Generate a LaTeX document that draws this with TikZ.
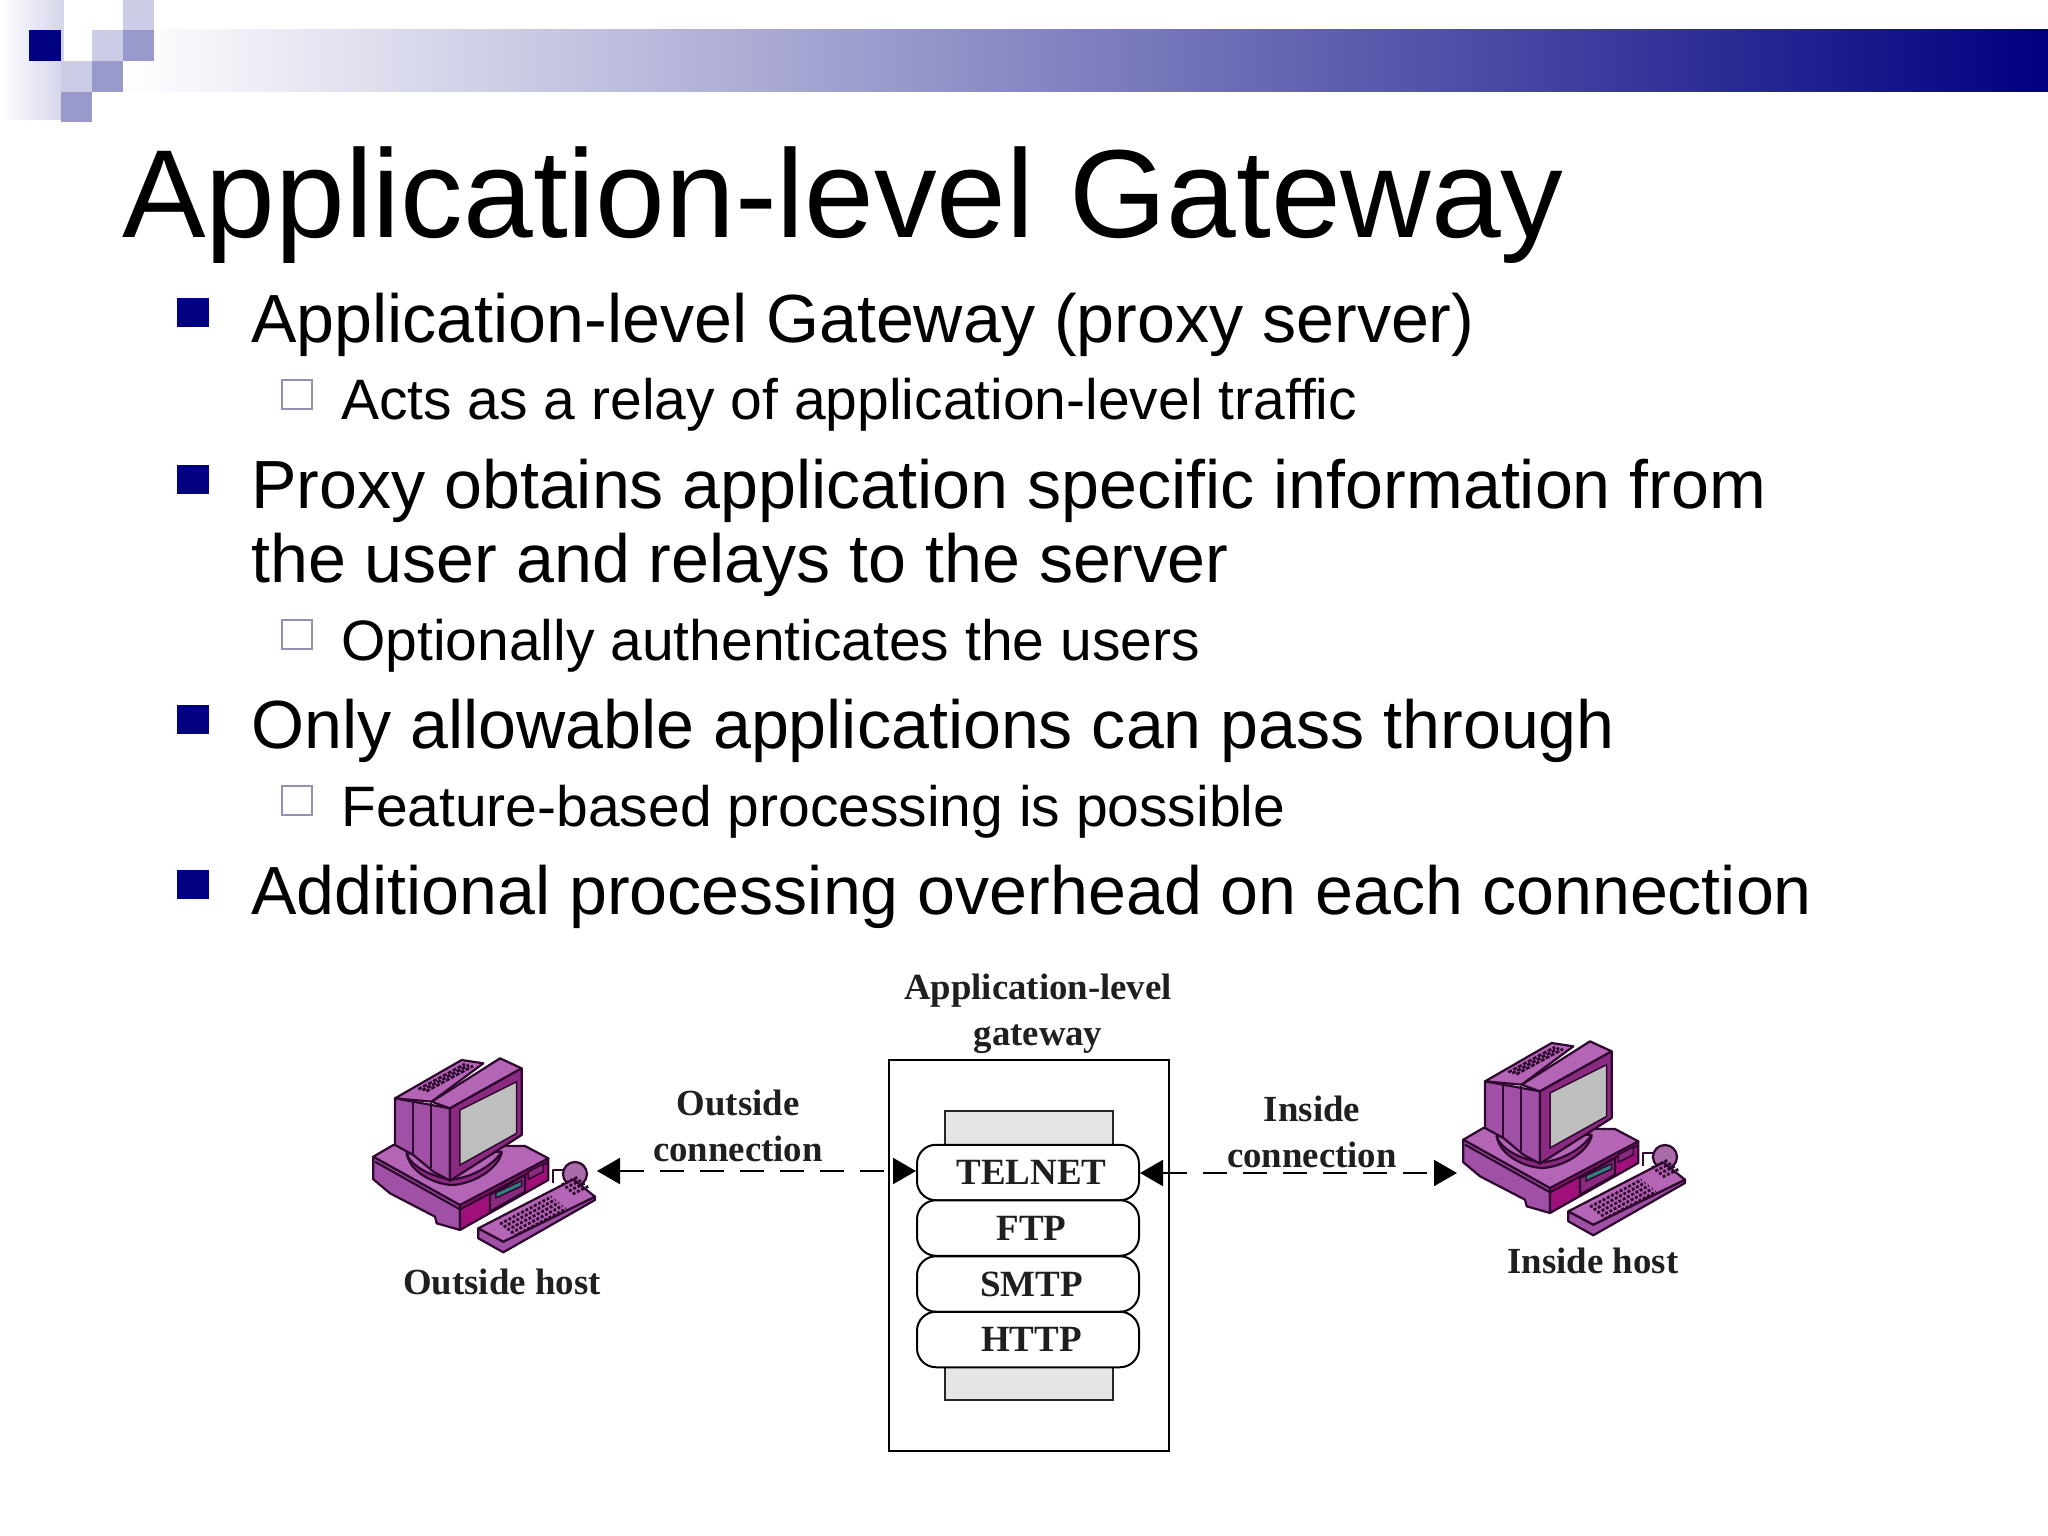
\documentclass[tikz,border=0pt]{standalone}
\usepackage{fontspec}
\setmainfont{Liberation Sans}
\newfontfamily\figfont{Liberation Serif}
\usetikzlibrary{arrows.meta}
\definecolor{slidenavy}{HTML}{000080}
\definecolor{decolight}{HTML}{CCCCE6}
\definecolor{decomid}{HTML}{9999CC}
\definecolor{pcdark}{HTML}{2E082E}
\definecolor{pctop}{HTML}{B565B5}
\definecolor{pcside}{HTML}{A050A5}
\definecolor{pcface}{HTML}{8A2A80}
\definecolor{pcmag}{HTML}{A0107A}
\definecolor{pcscreen}{HTML}{BEBEBE}
\tikzset{
  titletext/.style={anchor=base west,inner sep=0,font=\fontsize{125.3}{125}\selectfont},
  bodytext/.style={anchor=base west,inner sep=0,font=\fontsize{68.15}{68}\selectfont},
  subtext/.style={anchor=base west,inner sep=0,font=\fontsize{57}{57}\selectfont},
  bullone/.style={fill=slidenavy,draw=none},
  bulltwo/.style={draw=decomid!70!gray,line width=2.4pt,fill=white},
  figlabel/.style={inner sep=0,align=center,text=black!88,font=\figfont\bfseries\fontsize{36.8}{46}\selectfont},
  pill/.style={draw=black,line width=2pt,fill=white,rounded corners=19pt,minimum width=222pt,minimum height=55.5pt,inner sep=0,text=black!88,font=\figfont\bfseries\fontsize{37}{37}\selectfont,execute at begin node=\hspace*{7pt}},
  grayblock/.style={draw=black!85,line width=2pt,fill=black!10},
  conn/.style={line width=2pt,dash pattern=on 24pt off 16pt,{Triangle[length=23pt,width=26pt]}-{Triangle[length=23pt,width=26pt]}},
  pcline/.style={draw=pcdark,line width=2.2pt,line join=round},
  host/.pic={
    % system unit
    \filldraw[pcline,fill=pcside] (100,410)--(360,555)--(360,630)--(290,610)--(285,590)--(150,520)--(100,478)--cycle;
    \filldraw[pcline,fill=pcmag] (360,555)--(625,415)--(625,480)--(360,630)--cycle;
    \filldraw[pcline,fill=pctop] (100,410)--(160,375)--(555,378)--(625,415)--(360,555)--cycle;
    \draw[pcline] (105,425)--(360,568)--(622,428);
    \filldraw[pcline,fill=pcface] (450,525)--(555,465)--(555,515)--(450,575)--cycle;
    \filldraw[draw=pcdark,fill=teal!60!gray,line width=1.5pt] (468,518)--(545,482)--(545,498)--(468,534)--cycle;
    \filldraw[draw=pcdark,fill=pcface,line width=1.5pt] (565,455)--(610,432)--(610,455)--(565,478)--cycle;
    % pedestal
    \filldraw[pcline,fill=pcface] (200,400)..controls (210,460) and (290,495) ..(340,495)..controls (400,490) and (470,450)..(485,400)--cycle;
    \filldraw[pcline,fill=pctop] (200,400)..controls (215,445) and (290,475)..(340,478)..controls (400,470) and (460,435)..(485,395)--cycle;
    % monitor body
    \filldraw[pcline,fill=pcside] (165,235)--(330,265)--(330,482)--(280,455)--(220,405)--(165,375)--cycle;
    \draw[pcline] (220,242)--(220,405) (272,250)--(272,445);
    \filldraw[pcline,fill=pctop] (165,235)--(365,120)--(430,130)--(275,245)--cycle;
    \foreach \k in {0,1,2}
      \draw[draw=pcdark,line width=2.6pt,dash pattern=on 4pt off 1.6pt] ({235+\k*12},{208+\k*3})--({375+\k*12},{132+\k*3});
    \filldraw[pcline,fill=pctop] (275,245)--(480,115)--(545,145)--(330,265)--cycle;
    \filldraw[pcline,fill=pcface] (330,265)--(545,145)--(545,345)--(330,482)--cycle;
    \filldraw[draw=pcdark,fill=pcscreen,line width=1.5pt] (360,270)--(530,185)--(530,340)--(360,435)--cycle;
    % mouse and cable
    \draw[pcline] (640,490)--(640,450)--(680,450);
    \filldraw[pcline,fill=pctop!75!gray] (705,462) circle (36);
    % keyboard
    \filldraw[pcline,fill=pcside] (415,625)--(490,665)--(765,530)--(765,540)--(490,697)--(415,655)--cycle;
    \filldraw[pcline,fill=pctop] (415,625)--(700,478)--(765,530)--(490,665)--cycle;
    \foreach \r in {0,1,2,3,4}
      \draw[draw=pcdark,line width=2.8pt,dash pattern=on 3pt off 1.8pt] ({480+\r*11},{612+\r*9})--({635+\r*11},{530+\r*9});
    \foreach \r in {0,1,2,3}
      \draw[draw=pcdark,line width=2.8pt,dash pattern=on 3pt off 1.8pt] ({665+\r*11},{495+\r*9})--({712+\r*11},{472+\r*9});
  }
}
\begin{document}
\begin{tikzpicture}[x=1pt,y=-1pt]
\useasboundingbox (0,0) rectangle (2048,1536);
\fill[white] (0,0) rectangle (2048,1536);
% decoration
\shade[left color=white,right color=decolight!85!white] (0,0) rectangle (64,120);
\shade[left color=white,right color=slidenavy,shading angle=90] (123,30) rectangle (2048,92);
\fill[white] (64,0) rectangle (92,61);
\fill[white] (92,0) rectangle (123,30);
\fill[white] (92,61) rectangle (123,92);
\fill[slidenavy] (29,30) rectangle (61,61);
\fill[decolight] (92,30) rectangle (123,61);
\fill[decomid] (123,30) rectangle (154,61);
\fill[decolight] (123,0) rectangle (154,30);
\fill[decolight] (61,61) rectangle (92,92);
\fill[decomid] (92,61) rectangle (123,92);
\fill[decomid] (61,92) rectangle (92,122);
% text
\node[titletext] (title) at (122,237) {Application-level Gateway};
\node[bodytext] (b1) at (251,342) {Application-level Gateway (proxy server)};
\node[subtext] (s1) at (341,419.5) {Acts as a relay of application-level traffic};
\node[bodytext] (b2) at (251,508.5) {Proxy obtains application specific information from};
\node[bodytext] (b2b) at (251,582.7) {the user and relays to the server};
\node[subtext] (s2) at (341,660) {Optionally authenticates the users};
\node[bodytext] (b3) at (251,748.5) {Only allowable applications can pass through};
\node[subtext] (s3) at (341,826.5) {Feature-based processing is possible};
\node[bodytext] (b4) at (251,914.5) {Additional processing overhead on each connection};
% bullets
\foreach \yy in {298,464.5,705,870} \fill[bullone] (177,\yy) rectangle +(32,29);
\foreach \yy in {380,620,786} \draw[bulltwo] (282,\yy) rectangle +(30,29);
% gateway
\node[figlabel] (gwlabel) at (1038,1014) {Application-level\\gateway};
\node[draw=black,line width=2.4pt,minimum width=280pt,minimum height=391pt,inner sep=0] (gateway) at (1029,1255.5) {};
\draw[grayblock] (945,1111) rectangle (1113,1150);
\draw[grayblock] (945,1362) rectangle (1113,1400);
\node[pill] (telnet) at (1028,1172.5) {TELNET};
\node[pill] (ftp) at (1028,1228) {FTP};
\node[pill] (smtp) at (1028,1284) {SMTP};
\node[pill] (http) at (1028,1339.5) {HTTP};
% hosts
\pic[scale=0.3333] at (340,1020) {host};
\pic[scale=0.3333] at (1430,1003) {host};
\coordinate (outsidetip) at (597,1171);
\coordinate (insidetip) at (1457,1173);
\node[figlabel] (outlabel) at (738,1126) {Outside\\connection};
\node[figlabel] (inlabel) at (1312,1132) {Inside\\connection};
\node[figlabel] (outhost) at (502,1282) {Outside host};
\node[figlabel] (inhost) at (1593,1261) {Inside host};
\draw[conn] (outsidetip) -- (telnet.west |- outsidetip);
\draw[conn] (telnet.east |- insidetip) -- (insidetip);
\end{tikzpicture}
\end{document}
